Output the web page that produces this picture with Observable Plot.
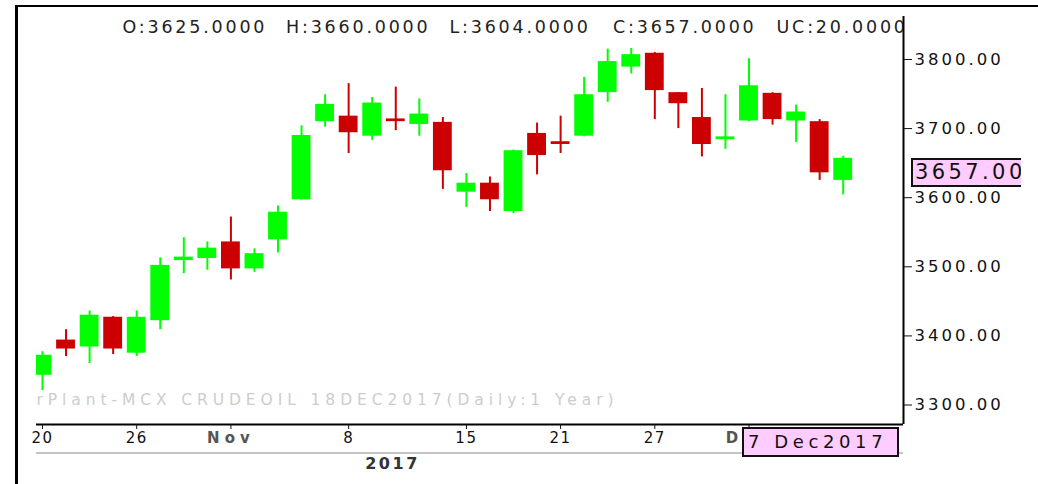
<!DOCTYPE html>
<html>
<head>
<meta charset="utf-8">
<script src="https://cdn.jsdelivr.net/npm/d3@7"></script>
<script src="https://cdn.jsdelivr.net/npm/@observablehq/plot@0.6"></script>
<style>
  html, body { margin: 0; padding: 0; background: #fff; }
  #wrap { position: relative; width: 1038px; height: 484px; overflow: hidden; background: #fff; font-family: "DejaVu Sans", sans-serif; }
  #frame { position: absolute; left: 15px; top: 5px; width: 1100px; height: 600px; border-left: 3px solid #000; border-top: 2px solid #000; }
  #chart { position: absolute; left: 0; top: 0; }
  #yearline { position: absolute; left: 36px; top: 452px; width: 867px; height: 2px; background: #c4c4c4; }
  .box { position: absolute; background: #ffccff; color: #111; white-space: nowrap; overflow: hidden; box-sizing: border-box; }
  #pricebox { left: 911px; width: 110px; height: 29px; border: 2px solid #111; border-right: none; font-size: 21px; letter-spacing: 3.4px; line-height: 25px; padding-left: 2px; }
  #datebox { left: 742px; top: 427px; width: 157px; height: 30px; border: 2px solid #111; font-size: 18px; letter-spacing: 4.6px; line-height: 26px; padding-left: 4px; }
</style>
</head>
<body>
<div id="wrap">
  <div id="frame"></div>
  <div id="chart"></div>
  <div id="yearline"></div>
</div>
<script>
// ---- data (MCX CRUDEOIL 18DEC2017, daily) ----
const dates = ["2017-10-20","2017-10-23","2017-10-24","2017-10-25","2017-10-26","2017-10-27",
  "2017-10-30","2017-10-31","2017-11-01","2017-11-02","2017-11-03",
  "2017-11-06","2017-11-07","2017-11-08","2017-11-09","2017-11-10",
  "2017-11-13","2017-11-14","2017-11-15","2017-11-16","2017-11-17",
  "2017-11-20","2017-11-21","2017-11-22","2017-11-23","2017-11-24",
  "2017-11-27","2017-11-28","2017-11-29","2017-11-30","2017-12-01",
  "2017-12-04","2017-12-05","2017-12-06","2017-12-07"];
const open  = [3343,3394,3384,3427,3375,3422, 3509,3512,3536,3497,3539, 3597,3710,3718,3689,3714, 3706,3709,3608,3621,3580, 3693,3681,3689,3752,3789, 3809,3752,3716,3684,3711, 3751,3711,3710,3625];
const high  = [3377,3409,3436,3428,3436,3513, 3542,3536,3572,3526,3588, 3704,3749,3765,3745,3760, 3743,3716,3635,3630,3669, 3708,3718,3774,3815,3816, 3810,3752,3758,3749,3801, 3752,3734,3713,3660];
const low   = [3321,3370,3360,3373,3370,3409, 3490,3495,3481,3492,3520, 3597,3702,3664,3683,3697, 3689,3612,3586,3580,3577, 3633,3664,3688,3738,3779, 3713,3700,3659,3670,3710, 3705,3680,3625,3604];
const close = [3372,3381,3430,3381,3427,3502, 3514,3527,3497,3519,3579, 3690,3735,3694,3737,3710, 3721,3639,3621,3597,3668, 3661,3677,3749,3797,3807, 3755,3736,3677,3688,3762, 3713,3724,3636,3657];

const tickDates  = ["2017-10-20","2017-10-26","2017-11-01","2017-11-08","2017-11-15","2017-11-21","2017-11-27","2017-12-01"];
const tickLabels = ["20","26","Nov","8","15","21","27","Dec"];
const monthLabels = ["Nov","Dec"];
const yTicks = [3300,3400,3500,3600,3700,3800];
const headerItems = ["O:3625.0000","H:3660.0000","L:3604.0000","C:3657.0000","UC:20.0000"];
const watermark = "rPlant-MCX CRUDEOIL 18DEC2017(Daily:1 Year)";
const yearLabel = "2017";

// ---- build ----
const UP = "#00ff00", DOWN = "#cc0000";
const candles = dates.map((d, i) => ({i, date: d, open: open[i], high: high[i], low: low[i], close: close[i]}));
const colorOf = d => d.close >= d.open ? UP : DOWN;
const tickIdx = tickDates.map(d => dates.indexOf(d));
const labelAt = new Map(tickIdx.map((k, j) => [k, tickLabels[j]]));
const monIdx = tickIdx.filter(k => monthLabels.includes(labelAt.get(k)));
const xDomain = [-0.255, 36.56];
const yDomain = [3271.8, 3862.2];

const chart = Plot.plot({
  width: 1038, height: 484,
  marginLeft: 36, marginRight: 135, marginTop: 16, marginBottom: 60,
  style: {background: "transparent", fontFamily: "DejaVu Sans", color: "#111", overflow: "visible"},
  x: {type: "linear", domain: xDomain, axis: null},
  y: {domain: yDomain, axis: null},
  color: {type: "identity"},
  marks: [
    Plot.ruleX(candles, {x: "i", y1: "low", y2: "high", stroke: colorOf, strokeWidth: 2, clip: "frame"}),
    Plot.rectY(candles, {x1: d => d.i - 0.4, x2: d => d.i + 0.4, y1: "open", y2: "close", fill: colorOf, clip: "frame"}),
    Plot.ruleY([yDomain[0]], {stroke: "#000", strokeWidth: 2}),
    Plot.ruleX([xDomain[1]], {stroke: "#000", strokeWidth: 2}),
    Plot.axisY({anchor: "right", ticks: yTicks, tickFormat: d => d.toFixed(2), tickSize: 8, tickPadding: 3, fontSize: 16.5, label: null, color: "#111"}),
    Plot.axisX({ticks: tickIdx, tickFormat: k => monthLabels.includes(labelAt.get(k)) ? "" : labelAt.get(k), tickSize: 5, tickPadding: 3, fontSize: 15, label: null, color: "#111"}),
    Plot.axisX({ticks: monIdx, tickFormat: k => labelAt.get(k), tickSize: 0, tickPadding: 8, fontSize: 15, fontWeight: "bold", label: null, color: "#555"}),
    ...headerItems.map((t, k) => Plot.text([t], {text: d => d, frameAnchor: "top-left", textAnchor: "start", lineAnchor: "middle", dx: 86 + k * 163.5, dy: 11, fontSize: 17.5, fill: "#222", clip: "frame"})),
    Plot.text([watermark], {text: d => d, frameAnchor: "bottom-left", textAnchor: "start", lineAnchor: "middle", dx: 0, dy: -24, fontSize: 15.5, fill: "#cdcdcd", clip: "frame"}),
    Plot.text([yearLabel], {text: d => d, frameAnchor: "bottom-left", textAnchor: "middle", lineAnchor: "middle", dx: 356, dy: 39, fontSize: 16, fontWeight: "bold", fill: "#333"})
  ]
});
document.getElementById("chart").appendChild(chart);

// text spacing tweaks
const sel = d3.select(chart);
sel.selectAll('g[aria-label="y-axis tick label"] text').style("letter-spacing", "3px");
const xg = sel.selectAll('g[aria-label="x-axis tick label"]').nodes();
if (xg[0]) d3.select(xg[0]).selectAll("text").style("letter-spacing", "1.5px");
if (xg[1]) d3.select(xg[1]).selectAll("text").style("letter-spacing", "5px");
const tg = sel.selectAll('g[aria-label="text"]').nodes();
tg.slice(0, headerItems.length).forEach(g => d3.select(g).selectAll("text").style("letter-spacing", "2.8px"));
if (tg[headerItems.length]) d3.select(tg[headerItems.length]).selectAll("text").attr("textLength", 577).attr("lengthAdjust", "spacing");
if (tg[headerItems.length + 1]) d3.select(tg[headerItems.length + 1]).selectAll("text").style("letter-spacing", "2.5px");

// value boxes positioned through the chart's scales
const wrap = document.getElementById("wrap");
const last = candles[candles.length - 1];
const yS = chart.scale("y");
const pb = document.createElement("div");
pb.className = "box"; pb.id = "pricebox";
pb.style.top = (yS.apply(last.close) + 0.5) + "px";
pb.textContent = last.close.toFixed(2);
wrap.appendChild(pb);
const db = document.createElement("div");
db.className = "box"; db.id = "datebox";
db.textContent = d3.timeFormat("%-d %b%Y")(d3.timeParse("%Y-%m-%d")(last.date));
wrap.appendChild(db);
</script>
</body>
</html>
